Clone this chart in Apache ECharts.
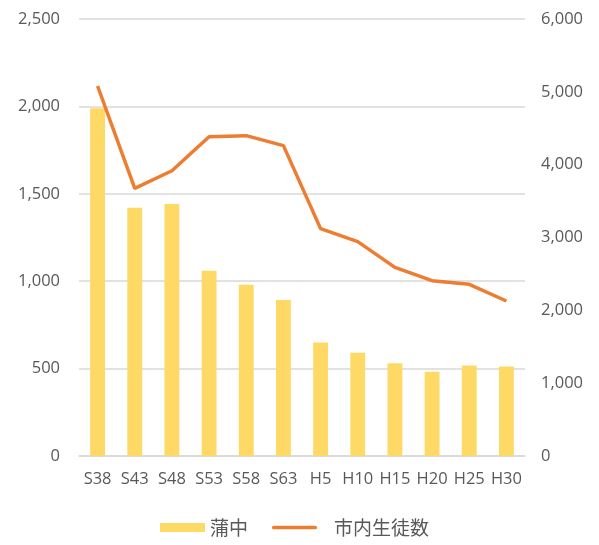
<!DOCTYPE html>
<html>
<head>
<meta charset="utf-8">
<script src="https://cdn.jsdelivr.net/npm/echarts@6/dist/echarts.min.js"></script>
<style>
  html, body { margin: 0; padding: 0; background: #fff; }
  #chart { width: 599px; height: 545px; }
</style>
</head>
<body>
<div id="chart"></div>
<script>
// 年度
const categories = ['S38', 'S43', 'S48', 'S53', 'S58', 'S63', 'H5', 'H10', 'H15', 'H20', 'H25', 'H30'];
// 蒲中 (左軸)
const kamochu = [1990, 1420, 1442, 1060, 980, 892, 650, 591, 530, 482, 518, 512];
// 市内生徒数 (右軸)
const shinai = [5080, 3675, 3917, 4384, 4398, 4261, 3122, 2943, 2590, 2407, 2357, 2128];

const fmt = v => v.toLocaleString('en-US');
const labelFont = { color: '#595959', fontSize: 16.5, fontFamily: 'Open Sans, Noto Sans CJK JP, sans-serif' };

const chart = echarts.init(document.getElementById('chart'));
chart.setOption({
  animation: false,
  grid: { left: 79, right: 74, top: 19, bottom: 89 },
  legend: {
    bottom: 3,
    left: 155,
    itemWidth: 45,
    itemHeight: 9,
    itemGap: 24,
    symbolKeepAspect: true,
    textStyle: { color: '#595959', fontSize: 19, fontFamily: 'Noto Sans CJK JP, sans-serif' },
    data: [
      { name: '蒲中', icon: 'rect' },
      {
        name: '市内生徒数',
        icon: 'path://M2,0 L47,0 A2,2 0 0 1 47,4 L2,4 A2,2 0 0 1 2,0 Z',
        textStyle: { padding: [0, 0, 0, 12] }
      }
    ]
  },
  xAxis: {
    type: 'category',
    data: categories,
    axisLine: { lineStyle: { color: '#d9d9d9', width: 1.5 } },
    axisTick: { show: false },
    axisLabel: Object.assign({ margin: 15, interval: 0 }, labelFont)
  },
  yAxis: [
    {
      type: 'value', min: 0, max: 2500, interval: 500,
      axisLine: { show: false }, axisTick: { show: false },
      splitLine: { lineStyle: { color: '#d9d9d9', width: 1.5 } },
      axisLabel: Object.assign({ formatter: fmt, margin: 19 }, labelFont)
    },
    {
      type: 'value', min: 0, max: 6000, interval: 1000,
      axisLine: { show: false }, axisTick: { show: false },
      splitLine: { show: false },
      axisLabel: Object.assign({ formatter: fmt, margin: 16 }, labelFont)
    }
  ],
  series: [
    {
      name: '蒲中', type: 'bar', data: kamochu, yAxisIndex: 0,
      barWidth: '40%',
      itemStyle: { color: '#FFD966' }
    },
    {
      name: '市内生徒数', type: 'line', data: shinai, yAxisIndex: 1,
      showSymbol: false, symbol: 'none',
      lineStyle: { color: '#ED7D31', width: 3.5 },
      itemStyle: { color: '#ED7D31' }
    }
  ]
});
</script>
</body>
</html>
